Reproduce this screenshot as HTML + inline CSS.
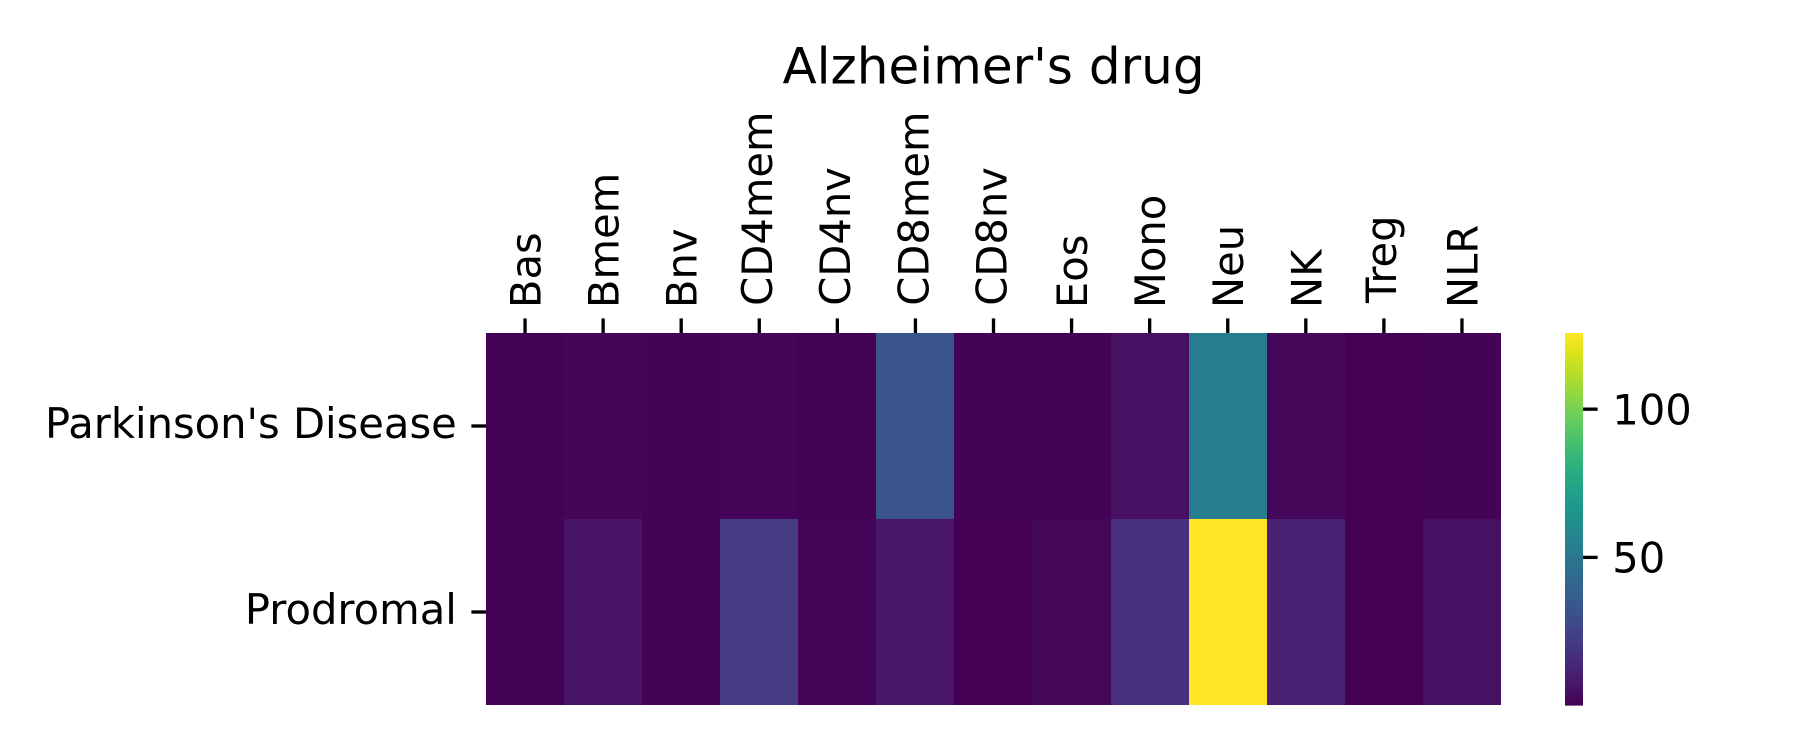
<!DOCTYPE html>
<html lang="en">
<head>
<meta charset="utf-8">
<title>Alzheimer's drug</title>
<style>
  html, body { margin: 0; padding: 0; background: #fff; }
  svg { display: block; }
  text { font-family: "DejaVu Sans", "Liberation Sans", sans-serif; fill: #000; }
</style>
</head>
<body>
<svg id="chart" width="1800" height="750" viewBox="0 0 1800 750" xmlns="http://www.w3.org/2000/svg">
  <rect x="0" y="0" width="1800" height="750" fill="#ffffff"></rect>
  <text x="993.5" y="83.5" font-size="50" text-anchor="middle">Alzheimer's drug</text>
  <g id="cells"></g>
  <g id="xaxis"></g>
  <g id="yaxis"></g>
  <g id="colorbar"></g>
</svg>
<script>
const cellTypes = ["Bas", "Bmem", "Bnv", "CD4mem", "CD4nv", "CD8mem", "CD8nv", "Eos", "Mono", "Neu", "NK", "Treg", "NLR"];
const conditions = ["Parkinson's Disease", "Prodromal"];
const parkinsonsValues = [0.5, 1.8, 0.8, 1.8, 0.6, 33, 0.4, 0.5, 5, 53, 2.2, 0.3, 1];
const prodromalValues = [0.4, 6.5, 1, 21.5, 1.6, 7.5, 0.2, 2.2, 17, 125.7, 11.5, 0.3, 5.5];
const colorbarTicks = [50, 100];
const viridisRamp = ["#440154", "#481567", "#482677", "#453781", "#404788", "#39568c", "#33638d", "#2d708e", "#287d8e", "#238a8d", "#1f968b", "#20a387", "#29af7f", "#3cbb75", "#55c667", "#73d055", "#95d840", "#b8de29", "#dce319", "#fde725"];

const SVG_NS = "http://www.w3.org/2000/svg";
const plot = { left: 486, right: 1501, top: 333, bottom: 705 };
const bar = { left: 1565, right: 1583, top: 333, bottom: 705 };
const tickLength = 14.6;
const tickPad = 14.6;
const tickWidth = 3.33;
const labelSize = 41.67;

const rows = [parkinsonsValues, prodromalValues];
const allValues = rows.flat();
const vmin = Math.min(...allValues);
const vmax = Math.max(...allValues);

function make(tag, attrs, parent) {
  const el = document.createElementNS(SVG_NS, tag);
  for (const key in attrs) el.setAttribute(key, attrs[key]);
  parent.appendChild(el);
  return el;
}
function hexToRgb(hex) {
  return [1, 3, 5].map(function (i) { return parseInt(hex.slice(i, i + 2), 16); });
}
function colorAt(t) {
  const clamped = Math.max(0, Math.min(1, t));
  const pos = clamped * (viridisRamp.length - 1);
  const lo = Math.floor(pos);
  const hi = Math.min(viridisRamp.length - 1, lo + 1);
  const a = hexToRgb(viridisRamp[lo]);
  const b = hexToRgb(viridisRamp[hi]);
  const f = pos - lo;
  return "rgb(" + a.map(function (c, i) { return Math.round(c + (b[i] - c) * f); }).join(",") + ")";
}
function colorScale(v) { return colorAt((v - vmin) / (vmax - vmin)); }
function xBand() { return (plot.right - plot.left) / cellTypes.length; }
function yBand() { return (plot.bottom - plot.top) / conditions.length; }
function xPos(i) { return plot.left + i * xBand(); }
function yPos(j) { return plot.top + j * yBand(); }
function xEdge(i) { return Math.round(xPos(i) - 0.1); }
function barY(v) { return bar.bottom - (bar.bottom - bar.top) * (v - vmin) / (vmax - vmin); }

// Offset of a rotated label's baseline from its tick; the renderer centres labels on their ink.
function labelBaselineOffset(name) {
  if (name.indexOf("g") >= 0) return 12.2;
  if (name.charAt(0) === "C") return 12.9;
  return 15.5;
}
// Labels start at a common ink position, so the anchor accounts for the first glyph's side bearing.
function labelAnchorY(name) {
  const inkStart = 304;
  const first = name.charAt(0);
  if (first === "T") return inkStart - 1;
  if (first === "C") return inkStart + 1.8;
  return inkStart + 4.08;
}

const cellsGroup = document.getElementById("cells");
rows.forEach(function (row, j) {
  row.forEach(function (value, i) {
    const cell = make("rect", {
      x: xEdge(i), y: yPos(j), width: xEdge(i + 1) - xEdge(i), height: yBand(),
      fill: colorScale(value), "shape-rendering": "crispEdges"
    }, cellsGroup);
    
    
  });
});

const xGroup = document.getElementById("xaxis");
cellTypes.forEach(function (name, i) {
  const cx = xPos(i) + xBand() / 2;
  const tick = make("line", {
    x1: cx, x2: cx, y1: plot.top - tickLength, y2: plot.top,
    stroke: "#000", "stroke-width": tickWidth
  }, xGroup);
  
  
  const ly = labelAnchorY(name);
  const bx = cx + labelBaselineOffset(name);
  const label = make("text", {
    x: bx, y: ly, "font-size": labelSize,
    transform: "rotate(-90 " + bx + " " + ly + ")"
  }, xGroup);
  label.textContent = name;
  
  
});

const yGroup = document.getElementById("yaxis");
conditions.forEach(function (name, j) {
  const cy = yPos(j) + yBand() / 2;
  const tick = make("line", {
    x1: plot.left - tickLength, x2: plot.left, y1: cy, y2: cy,
    stroke: "#000", "stroke-width": tickWidth
  }, yGroup);
  
  
  const label = make("text", {
    x: plot.left - tickLength - tickPad, y: cy + 12, "font-size": labelSize, "text-anchor": "end"
  }, yGroup);
  label.textContent = name;
  
  
});

const barGroup = document.getElementById("colorbar");
const levels = 256;
for (let k = 0; k < levels; k++) {
  const v0 = vmin + (vmax - vmin) * k / levels;
  const v1 = vmin + (vmax - vmin) * (k + 1) / levels;
  const step = make("rect", {
    x: bar.left, y: barY(v1), width: bar.right - bar.left,
    height: barY(v0) - barY(v1) + (k < levels - 1 ? 0.6 : 0),
    fill: colorScale((v0 + v1) / 2)
  }, barGroup);
  
  
}
colorbarTicks.forEach(function (value) {
  const y = barY(value);
  const tick = make("line", {
    x1: bar.right, x2: bar.right + tickLength, y1: y, y2: y,
    stroke: "#000", "stroke-width": tickWidth
  }, barGroup);
  
  
  const label = make("text", {
    x: bar.right + tickLength + tickPad, y: y + 15.3, "font-size": labelSize
  }, barGroup);
  label.textContent = String(value);
  
  
});
</script>
</body>
</html>
